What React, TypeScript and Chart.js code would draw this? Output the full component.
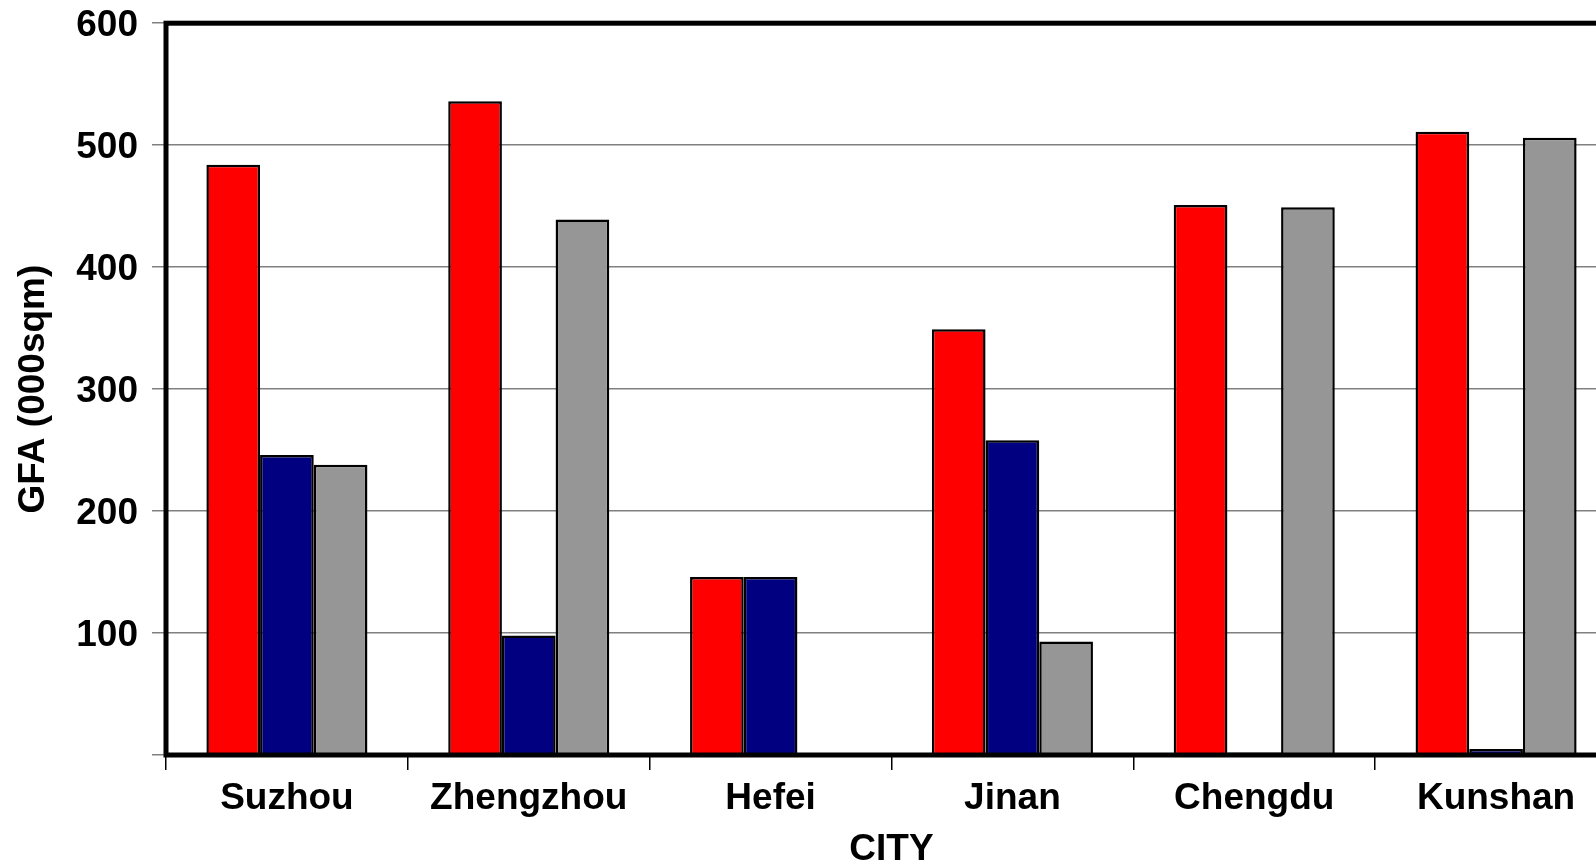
import React, { useEffect, useRef } from "react";
import { Chart, registerables } from "chart.js";

Chart.register(...registerables);

const categories = ["Suzhou", "Zhengzhou", "Hefei", "Jinan", "Chengdu", "Kunshan"];
const seriesRed = [484, 536, 146, 349, 451, 511];
const seriesBlue = [246, 98, 146, 258, 2, 5];
const seriesGray = [238, 439, null, 93, 449, 506];
const yMin = 0;
const yMax = 600;
const yStep = 100;

const FONT = '"Liberation Sans", Arial, Helvetica, sans-serif';

const framePlugin = {
  id: "frame",
  afterDatasetsDraw(chart: any) {
    const { ctx, chartArea } = chart;
    const { left, top, right, bottom } = chartArea;
    ctx.save();
    ctx.strokeStyle = "#000";
    ctx.lineWidth = 5;
    ctx.strokeRect(left, top, right - left, bottom - top);
    ctx.restore();
  },
};

export default function App() {
  const ref = useRef<HTMLCanvasElement | null>(null);
  useEffect(() => {
    if (!ref.current) return;
    const chart = new Chart(ref.current, {
      type: "bar",
      data: {
        labels: categories,
        datasets: [
          { label: "A", data: seriesRed, backgroundColor: "#FF0000", borderColor: "#000", borderWidth: 2.5 },
          { label: "B", data: seriesBlue, backgroundColor: "#000080", borderColor: "#000", borderWidth: 2.5 },
          { label: "C", data: seriesGray as any, backgroundColor: "#969696", borderColor: "#000", borderWidth: 2.5 },
        ],
      },
      options: {
        responsive: false,
        animation: false,
        devicePixelRatio: 1,
        layout: { padding: { top: 9, right: 23, left: 0, bottom: 0 } },
        datasets: { bar: { barPercentage: 1, categoryPercentage: 0.666 } } as any,
        plugins: { legend: { display: false }, tooltip: { enabled: false } },
        scales: {
          x: {
            grid: { offset: true, drawOnChartArea: false, drawTicks: true, tickLength: 15, tickColor: "#000", lineWidth: 1.5 },
            border: { display: false },
            ticks: { color: "#000", padding: 7, font: { family: FONT, size: 37, weight: "bold" } },
            title: { display: true, text: "CITY", color: "#000", padding: { top: 0, bottom: 0 }, font: { family: FONT, size: 37, weight: "bold", lineHeight: 0.8 } },
            afterFit(scale: any) { scale.height = 110; },
          },
          y: {
            min: yMin,
            max: yMax,
            grid: { color: "#808080", lineWidth: 1.5, tickLength: 14, tickColor: "#808080" },
            border: { display: false },
            ticks: {
              stepSize: yStep,
              color: "#000",
              padding: 14,
              labelOffset: 3,
              font: { family: FONT, size: 37, weight: "bold" },
              callback: (v: any) => (v === 0 ? "" : String(v)),
            },
            title: { display: true, text: "GFA (000sqm)", color: "#000", padding: { top: 12, bottom: 0 }, font: { family: FONT, size: 37, weight: "bold" } },
            afterFit(scale: any) { scale.width = 166; },
          },
        },
      },
      plugins: [framePlugin],
    });
    return () => chart.destroy();
  }, []);
  return (
    <div style={{ position: "fixed", left: 0, top: 0, width: 1596, height: 865, overflow: "hidden", background: "#fff" }}>
      <canvas ref={ref} width={1640} height={878} style={{ display: "block", position: "absolute", left: 0, top: -13, width: 1640, height: 878 }} />
    </div>
  );
}
